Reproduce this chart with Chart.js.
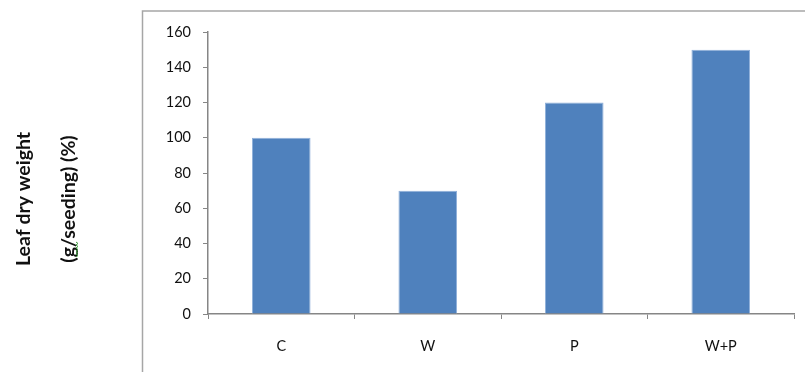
<!DOCTYPE html>
<html>
<head>
<meta charset="utf-8">
<script src="https://cdn.jsdelivr.net/npm/chart.js@4/dist/chart.umd.min.js"></script>
<style>
  html, body { margin: 0; padding: 0; background: #fff; }
  #wrap { width: 805px; height: 372px; position: relative; }
</style>
</head>
<body>
<div id="wrap"><canvas id="c" width="805" height="372"></canvas></div>
<script>
// Treatments and leaf dry weight relative to control (%)
const categories = ['C', 'W', 'P', 'W+P'];
const leafDryWeight = [100, 70, 120, 150];
const yTicks = [0, 20, 40, 60, 80, 100, 120, 140, 160];
const yTitleLines = ['Leaf dry weight', '(g/seeding) (%)'];

const textColor = '#111111';
const axisColor = '#868686';
const tickFont = { family: 'Lato, "Open Sans", sans-serif', size: 14.5 };

// Frame around the chart and the two-line rotated y title
const decorations = {
  id: 'decorations',
  beforeDraw(chart) {
    const ctx = chart.ctx;
    ctx.save();
    ctx.strokeStyle = '#a6a6a6';
    ctx.lineWidth = 1.5;
    ctx.beginPath();
    ctx.moveTo(142.5, 372);
    ctx.lineTo(142.5, 11);
    ctx.lineTo(805, 11);
    ctx.stroke();
    ctx.restore();
  },
  afterDraw(chart) {
    const ctx = chart.ctx;
    ctx.save();
    ctx.fillStyle = textColor;
    ctx.font = 'bold 19.5px Lato, "Open Sans", sans-serif';
    ctx.textAlign = 'center';
    ctx.textBaseline = 'middle';
    const cy = 199;
    [24, 69].forEach((x, i) => {
      ctx.save();
      ctx.translate(x, cy);
      ctx.rotate(-Math.PI / 2);
      ctx.fillText(yTitleLines[i], 0, 0);
      ctx.restore();
    });
    // proofing squiggle under the "g"
    ctx.strokeStyle = '#3c9a3c';
    ctx.lineWidth = 1;
    ctx.beginPath();
    for (let y = 257; y >= 242; y -= 1.5) {
      const x = 77 + ((Math.round((257 - y) / 1.5) % 2) ? 1 : -1);
      if (y === 257) ctx.moveTo(x, y); else ctx.lineTo(x, y);
    }
    ctx.stroke();
    ctx.restore();
  }
};

new Chart(document.getElementById('c'), {
  type: 'bar',
  data: {
    labels: categories,
    datasets: [{
      data: leafDryWeight,
      backgroundColor: '#4f81bd',
      borderColor: '#8fb0da',
      borderWidth: 1,
      categoryPercentage: 0.8,
      barPercentage: 0.5
    }]
  },
  options: {
    responsive: false,
    animation: false,
    devicePixelRatio: 1,
    layout: { padding: { top: 32, right: 11, bottom: 0, left: 0 } },
    plugins: { legend: { display: false }, tooltip: { enabled: false } },
    scales: {
      x: {
        grid: { offset: true, drawOnChartArea: false, tickLength: 5, color: axisColor },
        border: { color: axisColor, width: 1.5 },
        ticks: { color: textColor, font: tickFont, padding: 19 },
        afterFit(s) { s.height = 58; }
      },
      y: {
        min: 0, max: 160,
        afterBuildTicks(s) { s.ticks = yTicks.map(v => ({ value: v })); },
        grid: { drawOnChartArea: false, tickLength: 5, color: axisColor },
        border: { color: axisColor, width: 1.5 },
        ticks: { color: textColor, font: tickFont, padding: 12 },
        afterFit(s) { s.width = 208; }
      }
    }
  },
  plugins: [decorations]
});
</script>
</body>
</html>
